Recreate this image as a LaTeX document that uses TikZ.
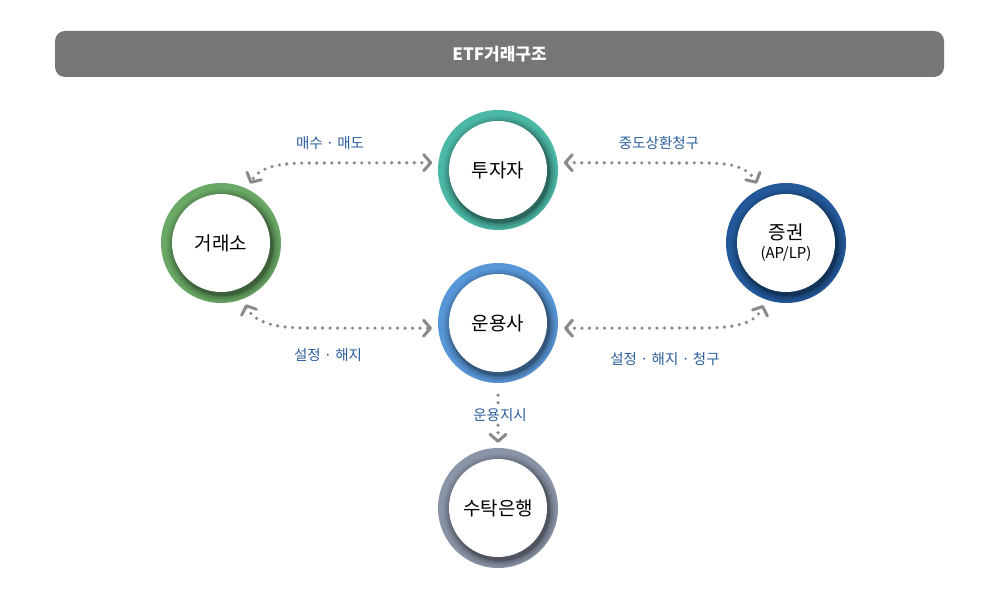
\documentclass[tikz,border=0pt]{standalone}
\usepackage{fontspec}
\setmainfont{Noto Sans CJK KR}
\usetikzlibrary{arrows.meta}
\definecolor{cteal}{HTML}{4BB7A5}
\definecolor{cgreen}{HTML}{6AA865}
\definecolor{cdblue}{HTML}{23599A}
\definecolor{cblue}{HTML}{5897D7}
\definecolor{cgray}{HTML}{8B93A7}
\definecolor{lblue}{HTML}{2B5E9D}
\definecolor{hdr}{HTML}{767676}
\definecolor{dgray}{HTML}{8A8A8A}
\tikzset{
  ring/.style={circle, minimum size=120pt, inner sep=0pt, fill=#1},
  inner/.style={circle, fill=white, minimum size=98pt, inner sep=0pt, align=center, font=\fontsize{19}{22}\selectfont},
  lbl/.style={font=\fontsize{14.5}{17}\selectfont, text=lblue, inner sep=2pt},
  tipb/.tip={Straight Barb[length=7pt,width=16pt,line width=3pt,round]},
  conn/.style={draw=dgray, line width=3.6pt, dash pattern=on 0pt off 7.5pt, line cap=round, shorten <=6pt, shorten >=6pt},
}
\newcommand\mybubble[4]{%
  \node[ring=#3] (#1) at (#2) {};
  \foreach \r/\o in {57/0.05,55/0.07,53/0.1,51/0.14,50/0.14}{%
    \fill[black,opacity=\o] ([shift={(2,-3)}]#1.center) circle[radius=\r];}
  \node[inner] (#1-in) at (#1.center) {#4};
}
\begin{document}
\begin{tikzpicture}[x=1pt,y=1pt]
\useasboundingbox (0,0) rectangle (1000,605);
\fill[white] (0,0) rectangle (1000,605);
% header
\node[fill=hdr, rounded corners=10pt, minimum width=889pt, minimum height=46pt, inner sep=0pt,
      text=white, font=\bfseries\fontsize{17}{20}\selectfont] (hdr) at (499.5,551) {ETF거래구조};
% bubbles
\mybubble{inv}{498,435}{cteal}{투자자}
\mybubble{exch}{221,362}{cgreen}{거래소}
\mybubble{sec}{786,362}{cdblue}{증권\\[-3pt]{\fontsize{15}{17}\selectfont (AP/LP)}}
\mybubble{mgr}{498,282}{cblue}{운용사}
\mybubble{bank}{498,97}{cgray}{수탁은행}
% connectors
\draw[conn, tipb-tipb] (inv.173) -- (315,442) to[out=180,in=62] (exch.64);
\draw[conn, tipb-tipb] (inv.7) -- (682,442) to[out=0,in=118] (sec.116);
\draw[conn, tipb-tipb] (exch.292) to[out=292,in=180] (305,277) -- (mgr.185);
\draw[conn, tipb-tipb] (mgr.355) -- (692,277) to[out=0,in=248] (sec.250);
\draw[conn, -tipb, shorten <=12pt, shorten >=5pt] (mgr.south) -- (bank.north);
% labels
\node[lbl] (l1) at (330,462) {매수 · 매도};
\node[lbl] (l2) at (659,462) {중도상환청구};
\node[lbl] (l3) at (328,250) {설정 · 해지};
\node[lbl] (l4) at (665,246) {설정 · 해지 · 청구};
\node[lbl, fill=white, inner sep=1pt] (l5) at (500,190) {운용지시};
\end{tikzpicture}
\end{document}
